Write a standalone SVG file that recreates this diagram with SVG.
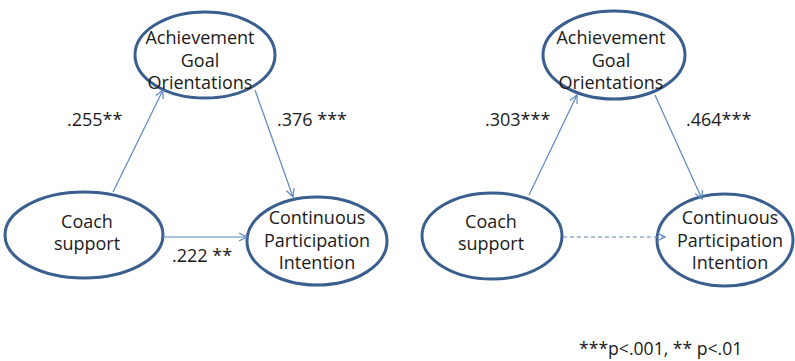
<svg xmlns="http://www.w3.org/2000/svg" width="795" height="361" viewBox="0 0 795 361">
<style>
.node ellipse{fill:#fff;stroke:#3A5F8E;stroke-width:3}
.node text,.lbl{font-family:"Open Sans","Noto Sans",sans-serif;font-size:18px;fill:#1a1a1a;text-anchor:middle}
.lbl{text-anchor:start}
.conn line{stroke:#5B87C2;stroke-width:1.2;fill:none}
.dash{stroke-dasharray:4 3}
</style>
<defs>
<marker id="arr" markerWidth="10" markerHeight="10" refX="9" refY="5" orient="auto" markerUnits="userSpaceOnUse">
<path d="M1,1 L9,5 L1,9" fill="none" stroke="#5B87C2" stroke-width="1.2"/>
</marker>
</defs>
<rect width="795" height="361" fill="#fff"/>
<g id="ago1" class="node">
<ellipse cx="205" cy="55" rx="70" ry="43"/>
<text x="200" y="44">Achievement</text>
<text x="200" y="67">Goal</text>
<text x="200" y="89">Orientations</text>
</g>
<g id="coach1" class="node">
<ellipse cx="84" cy="235" rx="79" ry="43"/>
<text x="87" y="228">Coach</text>
<text x="87" y="250">support</text>
</g>
<g id="cpi1" class="node">
<ellipse cx="317" cy="241" rx="70" ry="44"/>
<text x="317" y="224">Continuous</text>
<text x="317" y="247">Participation</text>
<text x="317" y="269">Intention</text>
</g>
<g id="ago2" class="node">
<ellipse cx="614" cy="55" rx="71" ry="44"/>
<text x="611" y="44">Achievement</text>
<text x="611" y="67">Goal</text>
<text x="611" y="89">Orientations</text>
</g>
<g id="coach2" class="node">
<ellipse cx="492" cy="236" rx="70" ry="43"/>
<text x="491" y="228">Coach</text>
<text x="491" y="250">support</text>
</g>
<g id="cpi2" class="node">
<ellipse cx="725" cy="240" rx="68" ry="46"/>
<text x="730" y="224">Continuous</text>
<text x="730" y="247">Participation</text>
<text x="730" y="269">Intention</text>
</g>
<g class="conn">
<line x1="113" y1="192" x2="163" y2="90" marker-end="url(#arr)"/>
<line x1="255" y1="90" x2="293" y2="197" marker-end="url(#arr)"/>
<line x1="163" y1="237" x2="247" y2="237" marker-end="url(#arr)"/>
<line x1="529" y1="195" x2="577" y2="95" marker-end="url(#arr)"/>
<line x1="655" y1="95" x2="702" y2="199" marker-end="url(#arr)"/>
<line class="dash" x1="563" y1="237" x2="665" y2="237" marker-end="url(#arr)"/>
</g>
<g id="labels">
<text class="lbl" x="67" y="126">.255**</text>
<text class="lbl" x="277" y="126">.376 ***</text>
<text class="lbl" x="172" y="262">.222 **</text>
<text class="lbl" x="485" y="126">.303***</text>
<text class="lbl" x="686" y="126">.464***</text>
<text class="lbl" x="579" y="355" style="font-size:17.6px">***p&lt;.001, ** p&lt;.01</text>
</g>
</svg>
